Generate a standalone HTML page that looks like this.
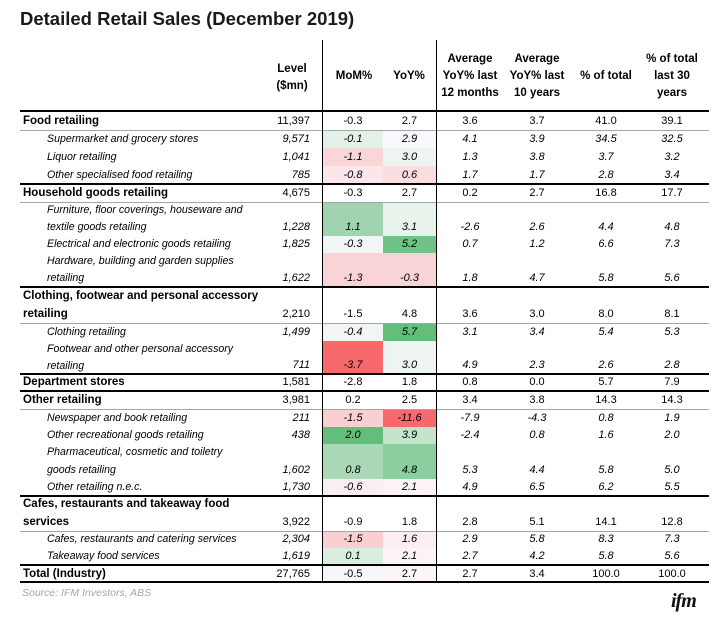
<!DOCTYPE html>
<html><head><meta charset="utf-8">
<style>
body{margin:0;background:#fff;width:727px;height:620px;position:relative;overflow:hidden;font-family:"Liberation Sans",sans-serif;color:#000}
.a{position:absolute}
.t{position:absolute;font-size:11px;line-height:17px;white-space:nowrap}
.hd{position:absolute;font-size:11.5px;font-weight:bold;text-align:center;line-height:17px}
</style></head><body>
<div class="a" style="left:20px;top:8px;font-size:18.5px;font-weight:bold;color:#1a1a1a">Detailed Retail Sales (December 2019)</div>
<div id="tbl"></div>
<div class="a" style="left:22px;top:587px;font-size:10.5px;font-style:italic;color:#a6a6a6">Source: IFM Investors, ABS</div>
<div class="a" style="left:671px;top:590px;font-size:20px;font-weight:bold;font-style:italic;font-family:'Liberation Serif',serif;color:#111;letter-spacing:-1px">ifm</div>
<script>
const labels=["Food retailing","Supermarket and grocery stores","Liquor retailing","Other specialised food retailing","Household goods retailing","Furniture, floor coverings, houseware and|textile goods retailing","Electrical and electronic goods retailing","Hardware, building and garden supplies|retailing","Clothing, footwear and personal accessory|retailing","Clothing retailing","Footwear and other personal accessory|retailing","Department stores","Other retailing","Newspaper and book retailing","Other recreational goods retailing","Pharmaceutical, cosmetic and toiletry|goods retailing","Other retailing n.e.c.","Cafes, restaurants and takeaway food|services","Cafes, restaurants and catering services","Takeaway food services","Total (Industry)"];
const isCat=[1,0,0,0,1,0,0,0,1,0,0,1,1,0,0,0,0,1,0,0,1];
const level=["11,397","9,571","1,041","785","4,675","1,228","1,825","1,622","2,210","1,499","711","1,581","3,981","211","438","1,602","1,730","3,922","2,304","1,619","27,765"];
const mom=["-0.3","-0.1","-1.1","-0.8","-0.3","1.1","-0.3","-1.3","-1.5","-0.4","-3.7","-2.8","0.2","-1.5","2.0","0.8","-0.6","-0.9","-1.5","0.1","-0.5"];
const yoy=["2.7","2.9","3.0","0.6","2.7","3.1","5.2","-0.3","4.8","5.7","3.0","1.8","2.5","-11.6","3.9","4.8","2.1","1.8","1.6","2.1","2.7"];
const avg12=["3.6","4.1","1.3","1.7","0.2","-2.6","0.7","1.8","3.6","3.1","4.9","0.8","3.4","-7.9","-2.4","5.3","4.9","2.8","2.9","2.7","2.7"];
const avg10=["3.7","3.9","3.8","1.7","2.7","2.6","1.2","4.7","3.0","3.4","2.3","0.0","3.8","-4.3","0.8","4.4","6.5","5.1","5.8","4.2","3.4"];
const share=["41.0","34.5","3.7","2.8","16.8","4.4","6.6","5.8","8.0","5.4","2.6","5.7","14.3","0.8","1.6","5.8","6.2","14.1","8.3","5.8","100.0"];
const share30=["39.1","32.5","3.2","3.4","17.7","4.8","7.3","5.6","8.1","5.3","2.8","7.9","14.3","1.9","2.0","5.0","5.5","12.8","7.3","5.6","100.0"];
const momFill=["","#e4f1e8","#fad6d9","#fbe6e9","","#9fd4ae","#f2f5f6","#fad3d6","","#f1f5f5","#f8696b","","","#facfd2","#63be7b","#a9d9b6","#f7eff2","","#f9cfd2","#d9eedf","#f7f7fa"];
const yoyFill=["","#f8f9fc","#eef4f2","#f9dde0","","#e8f3ec","#6fc386","#f9d4d7","","#63be7b","#eef4f2","","","#f8696b","#c3e5cc","#8ccf9f","#fbf3f5","","#fbeef0","#fbf3f5","#fbf5f7"];
const rowTop=[112,130,148,166,184,202,236,253,287,323,341,374,391,409,427,444,479,496,531,548,565,583];
const tbl=document.getElementById('tbl');
function add(cls,style,txt){const d=document.createElement('div');d.className=cls;d.style.cssText=style;if(txt!==undefined)d.innerHTML=txt;tbl.appendChild(d);return d;}
let h;
h=add('hd','left:262px;top:61px;width:60px','Level<br>($mn)');


h=add('hd','left:325px;top:68px;width:58px','MoM%');


h=add('hd','left:383px;top:68px;width:52px','YoY%');


h=add('hd','left:434px;top:51px;width:72px','Average<br>YoY% last<br>12 months');


h=add('hd','left:501px;top:51px;width:72px','Average<br>YoY% last<br>10 years');


h=add('hd','left:570px;top:68px;width:72px','% of total');


h=add('hd','left:636px;top:51px;width:72px','% of total<br>last 30<br>years');


const xs=[[436,504],[503,571],[572,640],[638,706]];
for(let i=0;i<labels.length;i++){
  const top=rowTop[i],bot=rowTop[i+1],hgt=bot-top;
  const it=isCat[i]?'':'font-style:italic;';
  const tb=hgt-17;
  if(momFill[i]){const f=add('a',`left:323px;top:${top}px;width:60px;height:${hgt}px;background:${momFill[i]}`);}
  if(yoyFill[i]){const f=add('a',`left:383px;top:${top}px;width:53px;height:${hgt}px;background:${yoyFill[i]}`);}
  const lab=add('t',`left:${isCat[i]?23:47}px;top:${top}px;${isCat[i]?'font-weight:bold;font-size:11.5px;':'font-size:10.6px;'}${it}`,labels[i].split('|').join('<br>'));
  lab.style.lineHeight=(hgt>20?(hgt/2)+'px':hgt+'px');
  
  
  const vals=[[level[i],262,310,'right'],[mom[i],323,383,'center'],[yoy[i],383,436,'center']];
  xs.forEach((x,k)=>vals.push([[avg12,avg10,share,share30][k][i],x[0],x[1],'center']));
  vals.forEach((v,k)=>{const c=add('t',`left:${v[1]}px;width:${v[2]-v[1]}px;top:${top+tb}px;text-align:${v[3]};${it}`,v[0]);
    
    });
}
const thick=[111,184,287,374,391,496,565,582];
thick.forEach(y=>{const l=add('a',`left:20px;top:${y-1}px;width:689px;height:2px;background:#000`);});
const thin=[130,202,323,409,531];
thin.forEach(y=>{const l=add('a',`left:20px;top:${y}px;width:689px;height:1px;background:#a6a6a6`);});
[322,436].forEach(x=>{const l=add('a',`left:${x}px;top:40px;width:1px;height:543px;background:#000`);});
</script>
</body></html>
